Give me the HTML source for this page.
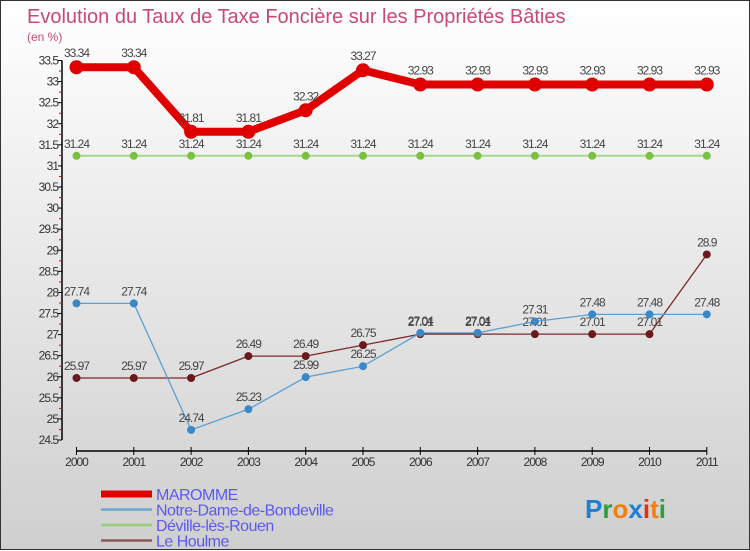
<!DOCTYPE html>
<html><head><meta charset="utf-8"><style>
html,body{margin:0;padding:0;}
body{width:750px;height:550px;overflow:hidden;font-family:"Liberation Sans",sans-serif;}
#wrap{position:relative;width:748px;height:548px;border:1px solid #333;background:linear-gradient(#ffffff,#cfcfcf);}
svg{position:absolute;left:0;top:0;}
</style></head><body>
<div id="wrap">
<svg id="chart" width="750" height="550">
<text x="26" y="22" font-size="20" fill="#c84a72">Evolution du Taux de Taxe Foncière sur les Propriétés Bâties</text>
<text x="26" y="40" font-size="12" fill="#c84a72">(en %)</text>
<text x="584" y="517" font-size="26" font-weight="bold"><tspan fill="#1e7fd0">P</tspan><tspan fill="#2aa040">r</tspan><tspan fill="#f08010">o</tspan><tspan fill="#1e7fd0">x</tspan><tspan fill="#e03010">i</tspan><tspan fill="#f08010">t</tspan><tspan fill="#2aa040">i</tspan></text>
</svg>
</div>
<script>
const years=["2000","2001","2002","2003","2004","2005","2006","2007","2008","2009","2010","2011"];
const yTicks=[24.5,25,25.5,26,26.5,27,27.5,28,28.5,29,29.5,30,30.5,31,31.5,32,32.5,33,33.5];
const maromme=[33.34,33.34,31.81,31.81,32.32,33.27,32.93,32.93,32.93,32.93,32.93,32.93];
const notreDame=[27.74,27.74,24.74,25.23,25.99,26.25,27.04,27.04,27.31,27.48,27.48,27.48];
const deville=[31.24,31.24,31.24,31.24,31.24,31.24,31.24,31.24,31.24,31.24,31.24,31.24];
const houlme=[25.97,25.97,25.97,26.49,26.49,26.75,27.01,27.01,27.01,27.01,27.01,28.9];
const seriesNames=["MAROMME","Notre-Dame-de-Bondeville","Déville-lès-Rouen","Le Houlme"];

const svg=document.getElementById('chart');
const NS='http://www.w3.org/2000/svg';
const x=i=>75.5+i*57.3;
const y=v=>439-(v-24.5)*(379.5/9);
function mk(tag,attrs,parent){const e=document.createElementNS(NS,tag);for(const k in attrs)e.setAttribute(k,attrs[k]);(parent||svg).appendChild(e);return e;}

const ya=mk('g',{});


mk('line',{x1:61,y1:y(33.5),x2:61,y2:y(24.5),stroke:'#000','stroke-width':1.5},ya);
yTicks.forEach(t=>{
  const yy=y(t);
  mk('line',{x1:57,y1:yy,x2:61,y2:yy,stroke:'#000'},ya);
  const tx=mk('text',{x:57,y:yy+4,'font-size':12,'text-anchor':'end',fill:'#333','letter-spacing':'-1'},ya);
  
  
  tx.textContent=String(t);
  if(t<33.5){mk('line',{x1:58,y1:yy-10.5,x2:61,y2:yy-10.5,stroke:'#e00'},ya);}
});
const xa=mk('g',{});


mk('line',{x1:x(0),y1:450,x2:x(11),y2:450,stroke:'#000','stroke-width':1.5},xa);
years.forEach((yr,i)=>{
  mk('line',{x1:x(i),y1:446,x2:x(i),y2:454,stroke:'#000'},xa);
  const tx=mk('text',{x:x(i),y:465,'font-size':12,'text-anchor':'middle',fill:'#333','letter-spacing':'-1'},xa);
  
  
  tx.textContent=yr;
});

function series(data,color,w,r,name,dot){
  const g=mk('g',{});
  
  
  mk('polyline',{points:data.map((v,i)=>x(i)+','+y(v)).join(' '),fill:'none',stroke:color,'stroke-width':w,'stroke-linejoin':'round'},g);
  data.forEach((v,i)=>{
    const c=mk('circle',{cx:x(i),cy:y(v),r:r,fill:dot,stroke:dot},g);
    
    
    const t=mk('text',{x:x(i),y:y(v)-8-(r>5?2:0),'font-size':12,'text-anchor':'middle',fill:'#444','letter-spacing':'-1'},g);
    
    
    t.textContent=String(v);
  });
}
series(deville,'#a8d890',2,3.5,'deville-series','#7cc040');
series(houlme,'#7a2a2a',1.3,3.5,'houlme-series','#6a1a1a');
series(notreDame,'#5aa0d0',1.3,3.5,'notre-dame-series','#3a88c8');
series(maromme,'#e00000',8,6.5,'maromme-series','#e00000');

const lg=mk('g',{});


const lc=['#e00000','#6aa8d0','#98d080','#8a5a5a'];
const lw=[7,2.5,2.5,2.5];
seriesNames.forEach((n,i)=>{
  const yy=493+i*15.5;
  const ln=mk('line',{x1:100,y1:yy,x2:151,y2:yy,stroke:lc[i],'stroke-width':lw[i]},lg);
  
  
  const t=mk('text',{x:155,y:yy+6,'font-size':16,fill:'#5a5af0','letter-spacing':'-0.5'},lg);
  
  
  t.textContent=n;
});
</script>
</body></html>
